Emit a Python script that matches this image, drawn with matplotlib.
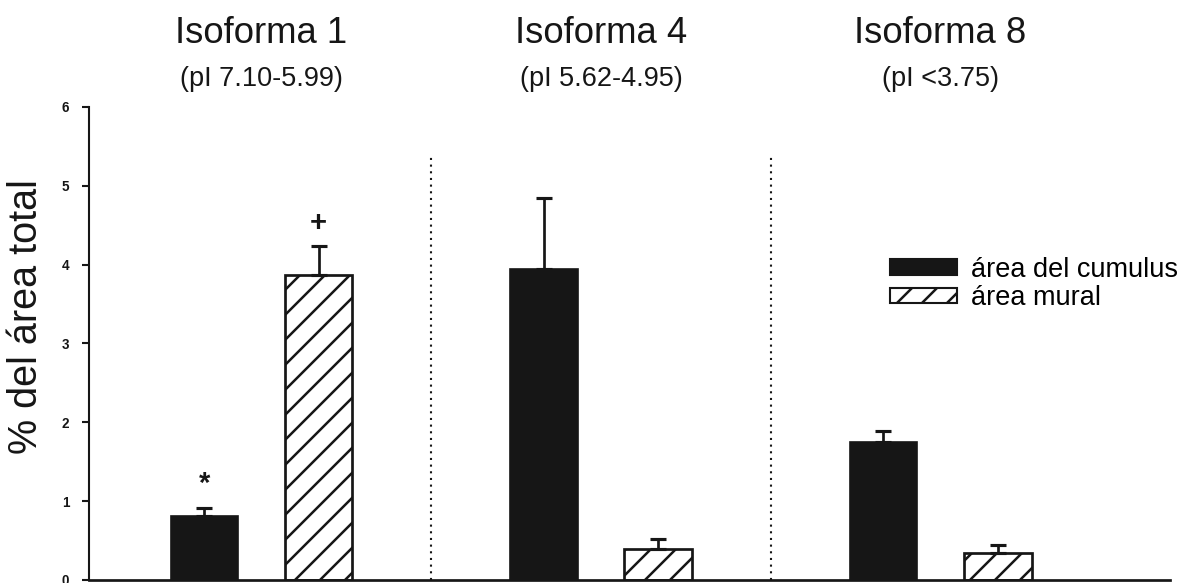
import numpy as np
import matplotlib
matplotlib.use("Agg")
import matplotlib.pyplot as plt
from matplotlib.patches import Patch

# values
isoforms = ["Isoforma 1", "Isoforma 4", "Isoforma 8"]
pi_ranges = ["(pI 7.10-5.99)", "(pI 5.62-4.95)", "(pI <3.75)"]
cumulus = [0.81, 3.95, 1.75]
cumulus_err = [0.10, 0.90, 0.14]
mural = [3.87, 0.39, 0.34]
mural_err = [0.37, 0.13, 0.10]
series_labels = ["área del cumulus", "área mural"]
# significance marks: (group, series offset sign, symbol, y)
marks = [(0, -1, "*", 1.22), (0, 1, "+", 4.53)]

plt.rcParams["font.family"] = ["Liberation Sans", "DejaVu Sans"]
plt.rcParams["hatch.linewidth"] = 1.2
black = "#161616"

fig = plt.figure(figsize=(1181 / 150, 583 / 150), dpi=150)
ax = fig.add_axes([0.0754, 0.0052, 0.9153, 0.8113])

x = np.arange(len(isoforms))
off = 0.168
w = 0.2

ax.bar(x - off, cumulus, w, color=black, edgecolor=black, linewidth=0.8, zorder=2)
ax.bar(x + off, mural, w, color="white", edgecolor=black, hatch="//", linewidth=1.3, zorder=2)

# upper error bars only
ax.errorbar(x - off, cumulus, yerr=[np.zeros(3), cumulus_err], fmt="none",
            ecolor=black, elinewidth=1.3, capsize=4, capthick=1.5, zorder=3)
ax.errorbar(x + off, mural, yerr=[np.zeros(3), mural_err], fmt="none",
            ecolor=black, elinewidth=1.3, capsize=4, capthick=1.5, zorder=3)

for g, sign, sym, yv in marks:
    ax.text(g + sign * off, yv, sym, ha="center", va="center", fontsize=14, fontweight="bold", color=black)

# dotted separators between isoforms
for xs in [0.5, 1.5]:
    ax.axvline(xs, ymin=0, ymax=5.36 / 6, color=black, linestyle=(0, (1, 2.2)), linewidth=1.0)

# headers above each group
for i in range(len(isoforms)):
    ax.text(i, 6.93, isoforms[i], ha="center", va="center", fontsize=17.5, color=black)
    ax.text(i, 6.36, pi_ranges[i], ha="center", va="center", fontsize=13, color=black)

ax.set_xlim(-0.508, 2.676)
ax.set_ylim(0, 6)
ax.set_yticks(range(7))
ax.set_yticklabels([str(v) for v in range(7)], fontsize=6.5, fontweight="bold")
ax.set_xticks([])
ax.tick_params(axis="y", direction="out", length=3.5, width=1.0, pad=6, colors=black)
ax.spines["top"].set_visible(False)
ax.spines["right"].set_visible(False)
ax.spines["left"].set_linewidth(1.0)
ax.spines["bottom"].set_linewidth(1.3)
ax.spines["left"].set_color(black)
ax.spines["bottom"].set_color(black)
ax.set_ylabel("% del área total", fontsize=19, color=black)
ax.yaxis.set_label_coords(-0.041, 0.556)

handles = [Patch(facecolor=black, edgecolor=black, label=series_labels[0]),
           Patch(facecolor="white", edgecolor=black, hatch="//", label=series_labels[1])]
ax.legend(handles=handles, loc="upper left", bbox_to_anchor=(0.718, 0.735), frameon=False,
          fontsize=13, handlelength=2.5, handleheight=0.5, handletextpad=0.5, labelspacing=0.08)

fig.savefig("out.png", dpi=150)
